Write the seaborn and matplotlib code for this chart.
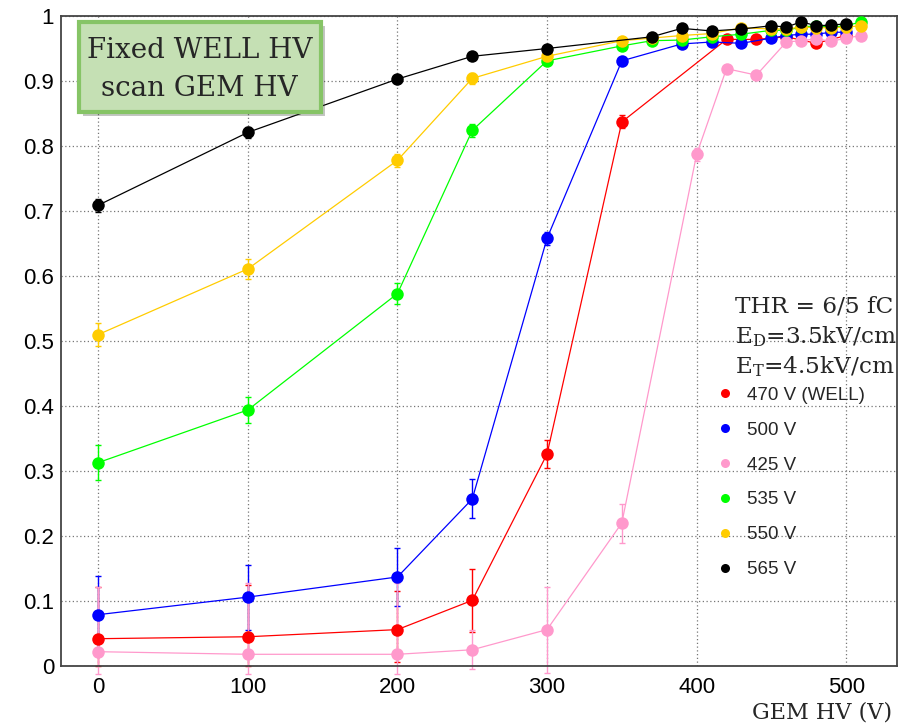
import matplotlib
matplotlib.use("Agg")
import matplotlib.pyplot as plt
import matplotlib.patheffects as pe
from matplotlib.patches import Rectangle
from matplotlib.lines import Line2D
from matplotlib.ticker import MultipleLocator, FixedLocator, FixedFormatter
import pandas as pd
import seaborn as sns

# efficiency vs GEM HV, one series per fixed WELL HV
labels = ["470 V (WELL)", "500 V", "425 V", "535 V", "550 V", "565 V"]
colors = ["#ff0000", "#0000ff", "#ff99cc", "#00ff00", "#ffcc00", "#000000"]

x_470 = [0, 100, 200, 250, 300, 350, 420, 440, 460, 480, 500]
y_470 = [0.042, 0.045, 0.056, 0.101, 0.326, 0.837, 0.964, 0.964, 0.968, 0.958, 0.970]
lo_470 = [0.042, 0.045, 0.050, 0.048, 0.022, 0.010, 0.005, 0.005, 0.005, 0.005, 0.005]
hi_470 = [0.080, 0.080, 0.060, 0.048, 0.022, 0.010, 0.005, 0.005, 0.005, 0.005, 0.005]

x_500 = [0, 100, 200, 250, 300, 350, 390, 410, 430, 450, 460, 470, 480, 490, 500]
y_500 = [0.079, 0.106, 0.137, 0.257, 0.658, 0.931, 0.957, 0.960, 0.958, 0.966, 0.970, 0.972, 0.972, 0.975, 0.975]
lo_500 = [0.060, 0.050, 0.045, 0.030, 0.010, 0.005, 0.004, 0.004, 0.004, 0.004, 0.004, 0.004, 0.004, 0.004, 0.004]
hi_500 = [0.060, 0.050, 0.045, 0.030, 0.010, 0.005, 0.004, 0.004, 0.004, 0.004, 0.004, 0.004, 0.004, 0.004, 0.004]

x_425 = [0, 100, 200, 250, 300, 350, 400, 420, 440, 460, 470, 480, 490, 500, 510]
y_425 = [0.022, 0.018, 0.018, 0.025, 0.056, 0.220, 0.787, 0.919, 0.909, 0.960, 0.962, 0.965, 0.961, 0.966, 0.970]
lo_425 = [0.035, 0.030, 0.030, 0.030, 0.066, 0.030, 0.010, 0.006, 0.006, 0.005, 0.005, 0.005, 0.005, 0.005, 0.005]
hi_425 = [0.100, 0.110, 0.110, 0.030, 0.066, 0.030, 0.010, 0.006, 0.006, 0.005, 0.005, 0.005, 0.005, 0.005, 0.005]

x_535 = [0, 100, 200, 250, 300, 350, 370, 390, 410, 430, 450, 460, 470, 480, 490, 500, 510]
y_535 = [0.313, 0.394, 0.573, 0.824, 0.931, 0.954, 0.962, 0.963, 0.968, 0.972, 0.978, 0.978, 0.983, 0.985, 0.983, 0.985, 0.991]
err_535 = [0.027, 0.020, 0.016, 0.010, 0.005, 0.004, 0.004, 0.004, 0.004, 0.004, 0.003, 0.003, 0.003, 0.003, 0.003, 0.003, 0.003]

x_550 = [0, 100, 200, 250, 300, 350, 370, 390, 410, 430, 450, 460, 470, 480, 490, 500, 510]
y_550 = [0.510, 0.611, 0.778, 0.904, 0.938, 0.962, 0.966, 0.970, 0.973, 0.982, 0.980, 0.980, 0.983, 0.982, 0.982, 0.983, 0.985]
err_550 = [0.017, 0.015, 0.010, 0.008, 0.005, 0.004, 0.004, 0.004, 0.004, 0.003, 0.003, 0.003, 0.003, 0.003, 0.003, 0.003, 0.003]

x_565 = [0, 100, 200, 250, 300, 370, 390, 410, 430, 450, 460, 470, 480, 490, 500]
y_565 = [0.709, 0.821, 0.903, 0.938, 0.950, 0.968, 0.981, 0.977, 0.980, 0.985, 0.983, 0.991, 0.985, 0.986, 0.988]
err_565 = [0.010, 0.008, 0.006, 0.005, 0.004, 0.003, 0.003, 0.003, 0.003, 0.003, 0.003, 0.003, 0.003, 0.003, 0.003]

ytick_vals = [0, 0.1, 0.2, 0.3, 0.4, 0.5, 0.6, 0.7, 0.8, 0.9, 1.0]
ytick_labels = ["0", "0.1", "0.2", "0.3", "0.4", "0.5", "0.6", "0.7", "0.8", "0.9", "1"]
xtick_vals = [0, 100, 200, 300, 400, 500]

series = [
    (x_470, y_470, lo_470, hi_470),
    (x_500, y_500, lo_500, hi_500),
    (x_425, y_425, lo_425, hi_425),
    (x_535, y_535, err_535, err_535),
    (x_550, y_550, err_550, err_550),
    (x_565, y_565, err_565, err_565),
]

rows = []
for lab, (xs, ys, lo, hi) in zip(labels, series):
    for xv, yv in zip(xs, ys):
        rows.append({"GEM": xv, "eff": yv, "WELL": lab})
df = pd.DataFrame(rows)

sns.set_style("white")
plt.rcParams["font.family"] = ["Liberation Sans", "DejaVu Sans"]
plt.rcParams["mathtext.fontset"] = "dejavuserif"

fig = plt.figure(figsize=(9.13, 7.25), dpi=100)
ax = fig.add_axes([61 / 913, 1 - 666 / 725, 836 / 913, 650 / 725])

# error bars first, ROOT style (not clipped)
for lab, col, (xs, ys, lo, hi) in zip(labels, colors, series):
    eb = ax.errorbar(xs, ys, yerr=[lo, hi], fmt="none", ecolor=col, elinewidth=1,
                     capsize=2, capthick=1, zorder=2)
    for art in eb.lines[1] + eb.lines[2]:
        art.set_clip_on(False)

sns.lineplot(data=df, x="GEM", y="eff", hue="WELL", hue_order=labels, palette=colors,
             marker="o", markersize=9, markeredgewidth=0, linewidth=0.9, sort=False,
             estimator=None, legend=False, ax=ax, zorder=3)

ax.set_xlim(-25, 534)
ax.set_ylim(0, 1)
ax.xaxis.set_major_locator(FixedLocator(xtick_vals))
ax.xaxis.set_minor_locator(MultipleLocator(20))
ax.yaxis.set_major_locator(FixedLocator(ytick_vals))
ax.yaxis.set_major_formatter(FixedFormatter(ytick_labels))
ax.yaxis.set_minor_locator(MultipleLocator(0.02))
ax.tick_params(axis="both", which="both", direction="in", colors="#333333", labelcolor="black",
               labelsize=16, width=1, top=False, right=False)
ax.tick_params(axis="y", which="major", length=14, pad=5)
ax.tick_params(axis="y", which="minor", length=8.5)
ax.tick_params(axis="x", which="major", length=12, pad=8)
ax.tick_params(axis="x", which="minor", length=6.5)
ax.grid(True, which="major", linestyle=(0, (1, 2)), color="#777777", linewidth=0.9)
for sp in ax.spines.values():
    sp.set_color("#444444")
    sp.set_linewidth(1.3)

ax.set_ylabel("")
ax.set_xlabel("GEM HV (V)", fontsize=16, family="DejaVu Serif")
ax.xaxis.set_label_coords(0.994, -0.08)
ax.xaxis.label.set_horizontalalignment("right")
ax.xaxis.label.set_verticalalignment("baseline")

# title box
box = Rectangle((0.0215, 0.852), 0.289, 0.139, transform=ax.transAxes, facecolor="#c5e0b4",
                edgecolor="#86c466", linewidth=3, zorder=5)
box.set_path_effects([pe.SimplePatchShadow(offset=(3, -3), alpha=0.3), pe.Normal()])
ax.add_patch(box)
ax.text(0.1657, 0.935, "Fixed WELL HV", transform=ax.transAxes, ha="center", va="baseline",
        fontsize=20, family="DejaVu Serif", zorder=6)
ax.text(0.1657, 0.877, "scan GEM HV", transform=ax.transAxes, ha="center", va="baseline",
        fontsize=20, family="DejaVu Serif", zorder=6)

# run conditions
cond_lines = ["THR = 6/5 fC", r"E$_{\mathrm{D}}$=3.5kV/cm", r"E$_{\mathrm{T}}$=4.5kV/cm"]
for txt, yy in zip(cond_lines, [0.5446, 0.4969, 0.4508]):
    ax.text(0.806, yy, txt, transform=ax.transAxes, ha="left", va="baseline",
            fontsize=16.7, family="DejaVu Serif", zorder=6)

handles = [Line2D([], [], linestyle="none", marker="o", markersize=6.5, markeredgewidth=0,
                  color=c) for c in colors]
ax.legend(handles, labels, loc="upper left", bbox_to_anchor=(0.783, 0.430), frameon=False,
          fontsize=13.5, labelspacing=0.95, handlelength=1.0, handletextpad=0.67,
          borderpad=0, borderaxespad=0)

fig.savefig("out.png", dpi=100)
